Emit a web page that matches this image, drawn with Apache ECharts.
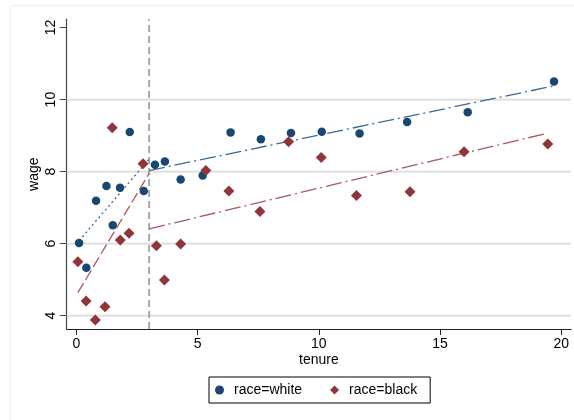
<!DOCTYPE html>
<html><head><meta charset="utf-8">
<script src="https://cdn.jsdelivr.net/npm/echarts@6/dist/echarts.min.js"></script>
<style>html,body{margin:0;padding:0;background:#fff}#c{width:574px;height:420px}</style>
</head><body><div id="c"></div>
<script>
const whiteTenure = [0.11,0.41,0.81,1.24,1.50,1.80,2.20,2.78,3.24,3.65,4.30,5.21,6.36,7.61,8.85,10.12,11.68,13.64,16.14,19.70];
const whiteWage   = [6.02,5.33,7.19,7.60,6.51,7.55,9.10,7.46,8.19,8.28,7.78,7.89,9.09,8.90,9.07,9.11,9.06,9.38,9.65,10.50];
const blackTenure = [0.06,0.40,0.78,1.18,1.48,1.81,2.17,2.75,3.30,3.63,4.30,5.34,6.29,7.57,8.75,10.10,11.55,13.76,15.99,19.44];
const blackWage   = [5.50,4.41,3.88,4.25,9.22,6.10,6.29,8.22,5.94,4.99,5.99,8.03,7.46,6.89,8.83,8.39,7.34,7.44,8.55,8.77];
const fitWhiteBeforeX = [0.11, 3];    const fitWhiteBeforeY = [6.08, 8.35];
const fitWhiteAfterX  = [3, 19.70];   const fitWhiteAfterY  = [8.03, 10.38];
const fitBlackBeforeX = [0.06, 3];    const fitBlackBeforeY = [4.64, 7.95];
const fitBlackAfterX  = [3, 19.44];   const fitBlackAfterY  = [6.41, 9.07];
const threshold = 3;
const xTicks = [0, 5, 10, 15, 20];
const yTicks = [4, 6, 8, 10, 12];
const yGrid = [4, 6, 8, 10];
const xMin = -0.4, xMax = 20.4, yMin = 3.63, yMax = 12.23;

const zip = (a, b) => a.map((v, i) => [v, b[i]]);
const BLUE = '#1a476f', RED = '#90353b';
const FONT = 'Liberation Sans';
const chart = echarts.init(document.getElementById('c'), null, {renderer: 'canvas'});

function fit(x, y, color, type) {
  return {type: 'line', data: zip(x, y), showSymbol: false, silent: true,
    lineStyle: {color: color, width: 1.3, type: type}, z: 3};
}
const gridSeries = yGrid.map(v => ({
  type: 'line', data: [[xMin, v], [xMax, v]], showSymbol: false, silent: true, z: 1,
  lineStyle: {color: '#dcdcdc', width: 1.7, type: 'solid'}
}));
const thresholdSeries = {
  type: 'line', data: [[threshold, yMin], [threshold, yMax]], showSymbol: false, silent: true, z: 2,
  lineStyle: {color: '#a8a8a8', width: 2, type: [7, 4]}
};

chart.setOption({
  animation: false,
  backgroundColor: '#fff',
  graphic: [{type: 'rect', shape: {x: 10.5, y: 5.5, width: 700, height: 600},
    style: {fill: 'none', stroke: '#eeeeee', lineWidth: 1}, z: -10}],
  grid: {left: 66.7, right: 3, top: 19.3, bottom: 91},
  legend: {
    data: [{name: 'race=white', icon: 'circle'}, {name: 'race=black', icon: 'diamond'}],
    left: 209, top: 377, orient: 'horizontal',
    borderColor: '#000', borderWidth: 1, borderRadius: 0,
    padding: [6, 13, 6, 6], itemGap: 28, itemWidth: 9, itemHeight: 9,
    textStyle: {fontFamily: FONT, fontSize: 14, color: '#000', padding: [0, 0, 0, 5]}
  },
  xAxis: {
    type: 'value', min: xMin, max: xMax,
    name: 'tenure', nameLocation: 'middle', nameGap: 24, nameMoveOverlap: false,
    nameTextStyle: {fontFamily: FONT, fontSize: 14, color: '#000'},
    axisLine: {show: true, onZero: false, lineStyle: {color: '#222', width: 1.2}},
    axisTick: {show: true, customValues: xTicks, length: 6, lineStyle: {color: '#222'}},
    axisLabel: {customValues: xTicks, margin: 8, fontFamily: FONT, fontSize: 14, color: '#000'},
    splitLine: {show: false}
  },
  yAxis: {
    type: 'value', min: yMin, max: yMax,
    name: 'wage', nameLocation: 'middle', nameGap: 26, nameRotate: 90, nameMoveOverlap: false,
    nameTextStyle: {fontFamily: FONT, fontSize: 14, color: '#000'},
    axisLine: {show: true, onZero: false, lineStyle: {color: '#444', width: 1.2}},
    axisTick: {show: true, customValues: yTicks, length: 7, lineStyle: {color: '#444'}},
    axisLabel: {customValues: yTicks, rotate: 90, margin: 9, fontFamily: FONT, fontSize: 14, color: '#000'},
    splitLine: {show: false}
  },
  series: [
    ...gridSeries,
    thresholdSeries,
    fit(fitWhiteBeforeX, fitWhiteBeforeY, '#3d6a94', [2, 3]),
    fit(fitWhiteAfterX, fitWhiteAfterY, '#3d6a94', [16, 4, 2, 4]),
    fit(fitBlackBeforeX, fitBlackBeforeY, '#a85a5f', [11, 4]),
    fit(fitBlackAfterX, fitBlackAfterY, '#a85a5f', [16, 4, 2, 4]),
    {name: 'race=white', type: 'scatter', data: zip(whiteTenure, whiteWage), symbol: 'circle',
      symbolSize: 8.5, itemStyle: {color: BLUE, opacity: 1}, z: 5},
    {name: 'race=black', type: 'scatter', data: zip(blackTenure, blackWage), symbol: 'diamond',
      symbolSize: 11, itemStyle: {color: RED, opacity: 1}, z: 5}
  ]
});
</script></body></html>
